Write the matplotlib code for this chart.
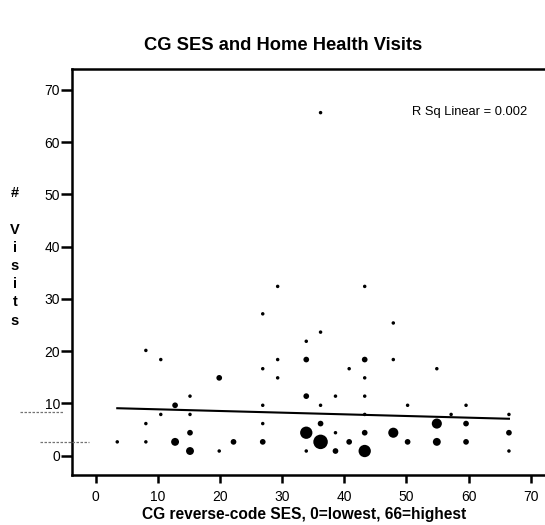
import numpy as np
import matplotlib
matplotlib.use("Agg")
import matplotlib.pyplot as plt

plt.rcParams["font.family"] = ["Liberation Sans", "DejaVu Sans"]

# Caregiver reverse-coded SES score, number of home health visits, and
# how many cases share each (SES, visits) combination
ses = [3.5, 8.1, 8.1, 8.1, 10.5, 10.5, 12.8, 12.8,
       15.2, 15.2, 15.2, 15.2, 19.9, 19.9, 22.2,
       26.9, 26.9, 26.9, 26.9, 26.9,
       29.3, 29.3, 29.3,
       33.9, 33.9, 33.9, 33.9, 33.9,
       36.2, 36.2, 36.2, 36.2, 36.2,
       38.6, 38.6, 38.6,
       40.8, 40.8,
       43.3, 43.3, 43.3, 43.3, 43.3, 43.3, 43.3,
       47.9, 47.9, 47.9,
       50.2, 50.2,
       54.9, 54.9, 54.9,
       57.2,
       59.6, 59.6, 59.6,
       66.5, 66.5, 66.5]
visits = [2.65, 20.15, 6.15, 2.65, 18.4, 7.9, 9.65, 2.65,
          11.4, 7.9, 4.4, 0.9, 14.9, 0.9, 2.65,
          27.15, 16.65, 9.65, 6.15, 2.65,
          32.4, 18.4, 14.9,
          21.9, 18.4, 11.4, 4.4, 0.9,
          65.65, 23.65, 9.65, 6.15, 2.65,
          11.4, 4.4, 0.9,
          16.65, 2.65,
          32.4, 18.4, 14.9, 11.4, 7.9, 4.4, 0.9,
          25.4, 18.4, 4.4,
          9.65, 2.65,
          16.65, 6.15, 2.65,
          7.9,
          9.65, 6.15, 2.65,
          7.9, 4.4, 0.9]
counts = [1, 1, 1, 1, 1, 1, 2, 3,
          1, 1, 2, 3, 2, 1, 2,
          1, 1, 1, 1, 2,
          1, 1, 1,
          1, 2, 2, 5, 1,
          1, 1, 1, 2, 6,
          1, 1, 2,
          1, 2,
          1, 2, 1, 1, 1, 2, 5,
          1, 1, 4,
          1, 2,
          1, 4, 3,
          1,
          1, 2, 2,
          1, 2, 1]

# Linear fit line (R squared = 0.002)
fit_intercept = 9.2
fit_slope = -0.032
r_sq = 0.002

x_ticks = [0, 10, 20, 30, 40, 50, 60, 70]
y_ticks = [0, 10, 20, 30, 40, 50, 60, 70]

W, H = 545, 525
fig = plt.figure(figsize=(W / 100, H / 100), dpi=100)
ax = fig.add_axes([72 / W, 1 - 475 / H, (W - 72) / W, (475 - 69) / H])

# marker diameter in pixels grows with the number of cases at a point
cnt = np.asarray(counts, dtype=float)
diam_px = 3.5 + 2.2 * (cnt - 1)
diam_pt = diam_px * 72 / 100
ax.scatter(ses, visits, s=diam_pt ** 2, c="black", edgecolors="none",
           zorder=3)

xs = np.array([min(ses), max(ses)])
ax.plot(xs, fit_intercept + fit_slope * xs, color="black", lw=1.5,
        zorder=2)

ax.text((527 - 72) / (W - 72), (475 - 112) / (475 - 69),
        f"R Sq Linear = {r_sq:.3f}",
        transform=ax.transAxes, ha="right", va="center", fontsize=9.3)

ax.set_xlim(-3.78, 72.3)
ax.set_ylim(-3.69, 74.0)
ax.set_xticks(x_ticks)
ax.set_yticks(y_ticks)
ax.tick_params(axis="both", direction="out", width=1.8, labelsize=10,
               colors="black")
ax.tick_params(axis="x", length=6, pad=5)
ax.tick_params(axis="y", length=8, pad=0.5)
for side in ("left", "bottom", "top"):
    ax.spines[side].set_linewidth(1.8)
ax.spines["right"].set_visible(False)

fig.text(283 / W, 1 - 45 / H, "CG SES and Home Health Visits",
         ha="center", va="center", fontsize=13.2, fontweight="bold")
fig.text(304 / W, 1 - 515 / H, "CG reverse-code SES, 0=lowest, 66=highest",
         ha="center", va="center", fontsize=11.2, fontweight="bold")
fig.text(15 / W, 1 - 257 / H, "#\n\nV\ni\ns\ni\nt\ns",
         ha="center", va="center", fontsize=10.5, fontweight="bold",
         linespacing=1.38)

# faint marks left of the y axis beside the fit line
fig.add_artist(plt.Line2D([20 / W, 63 / W], [1 - 411.7 / H] * 2,
                          color="0.45", lw=0.9, ls=(0, (2, 1.2))))
fig.add_artist(plt.Line2D([40 / W, 89 / W], [1 - 441.7 / H] * 2,
                          color="0.45", lw=0.9, ls=(0, (2, 1.2))))

fig.savefig("out.png", dpi=100)
